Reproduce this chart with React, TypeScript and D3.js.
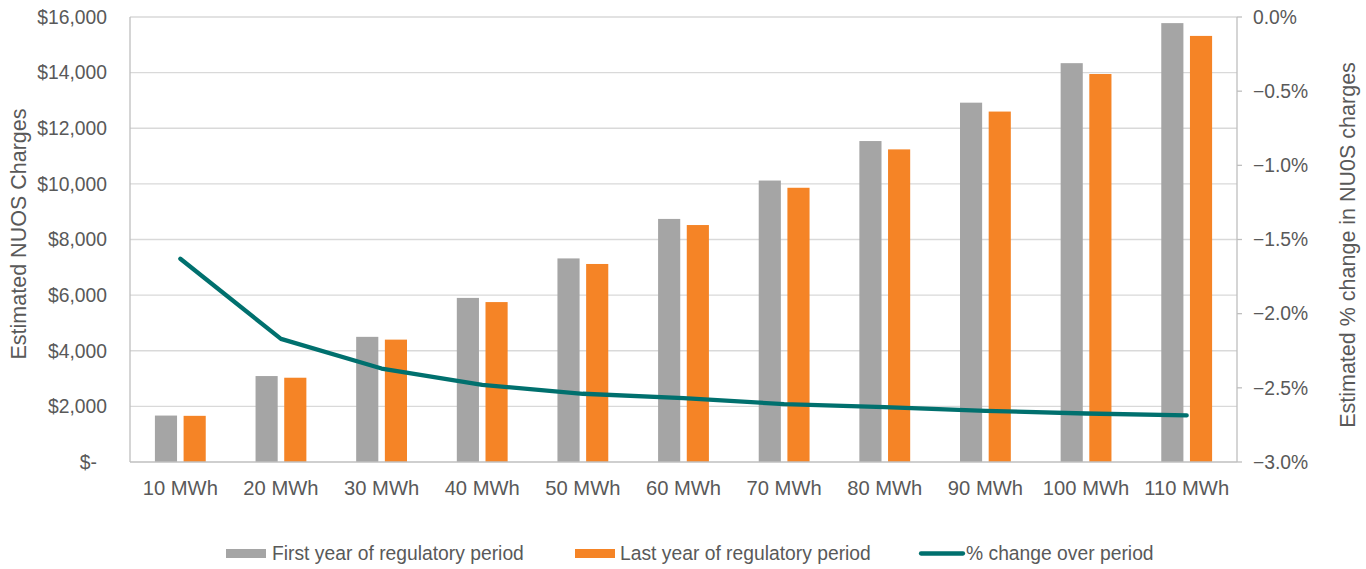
import React from "react";
import * as d3 from "d3";

const categories = ["10 MWh", "20 MWh", "30 MWh", "40 MWh", "50 MWh", "60 MWh", "70 MWh", "80 MWh", "90 MWh", "100 MWh", "110 MWh"];
const firstYear = [1670, 3090, 4500, 5900, 7320, 8740, 10120, 11540, 12920, 14340, 15780];
const lastYear = [1660, 3030, 4400, 5750, 7120, 8520, 9860, 11240, 12600, 13950, 15320];
const pctChange = [-1.63, -2.17, -2.37, -2.48, -2.54, -2.57, -2.61, -2.63, -2.655, -2.673, -2.686];
const leftTicks = [0, 2000, 4000, 6000, 8000, 10000, 12000, 14000, 16000];
const rightTicks = [0, -0.5, -1.0, -1.5, -2.0, -2.5, -3.0];
const seriesNames = ["First year of regulatory period", "Last year of regulatory period", "% change over period"];

const W = 1366;
const H = 569;
const plot = { left: 130, right: 1237, top: 17, bottom: 462 };
const FONT = "'Liberation Sans', Arial, sans-serif";
const TEXT = "#595959";
const GRAY = "#A5A5A5";
const ORANGE = "#F58426";
const TEAL = "#00706E";
const FS = 19.3;

export default function App() {
  const x = d3.scaleBand<string>().domain(categories).range([plot.left, plot.right]).paddingInner(0).paddingOuter(0);
  const yL = d3.scaleLinear().domain([0, 16000]).range([plot.bottom, plot.top]);
  const yR = d3.scaleLinear().domain([-3, 0]).range([plot.bottom, plot.top]);
  const bw = x.bandwidth();
  const barW = bw * 0.22;
  const gap = bw * 0.065;

  const line = d3
    .line<number>()
    .x((_, i) => (x(categories[i]) as number) + bw / 2)
    .y((d) => yR(d));

  const fmtMoney = (v: number) => (v === 0 ? "$-" : "$" + d3.format(",")(v));
  const fmtPct = (v: number) => d3.format(".1f")(v) + "%";

  return (
    <svg width={W} height={H} style={{ position: "absolute", left: 0, top: 0, background: "#fff" }} fontFamily={FONT}>
      {/* gridlines */}
      {leftTicks.slice(1).map((t) => (
        <line key={t} x1={plot.left} x2={plot.right} y1={yL(t)} y2={yL(t)} stroke="#D9D9D9" strokeWidth={1.3} />
      ))}
      {/* bars */}
      {categories.map((c, i) => {
        const cx = (x(c) as number) + bw / 2;
        return (
          <g key={c}>
            <rect x={cx - gap / 2 - barW} y={yL(firstYear[i])} width={barW} height={yL(0) - yL(firstYear[i])} fill={GRAY} />
            <rect x={cx + gap / 2} y={yL(lastYear[i])} width={barW} height={yL(0) - yL(lastYear[i])} fill={ORANGE} />
          </g>
        );
      })}
      {/* axes */}
      <line x1={plot.left} x2={plot.left} y1={plot.top} y2={plot.bottom} stroke="#BFBFBF" strokeWidth={1.3} />
      <line x1={plot.right} x2={plot.right} y1={plot.top} y2={plot.bottom} stroke="#BFBFBF" strokeWidth={1.3} />
      <line x1={plot.left} x2={plot.right} y1={plot.bottom} y2={plot.bottom} stroke="#BFBFBF" strokeWidth={1.3} />
      {rightTicks.map((t) => (
        <line key={t} x1={plot.right} x2={plot.right + 5} y1={yR(t)} y2={yR(t)} stroke="#BFBFBF" strokeWidth={1.3} />
      ))}
      {/* line series */}
      <path d={line(pctChange) || ""} fill="none" stroke={TEAL} strokeWidth={4.3} strokeLinecap="round" strokeLinejoin="round" />
      {/* left tick labels */}
      {leftTicks.map((t) => (
        <text key={t} x={t === 0 ? 97 : 107} y={yL(t)} dy="0.35em" textAnchor="end" fontSize={FS} fill={TEXT}>
          {fmtMoney(t)}
        </text>
      ))}
      {/* right tick labels */}
      {rightTicks.map((t) => (
        <text key={t} x={1253} y={yR(t)} dy="0.35em" textAnchor="start" fontSize={FS} fill={TEXT}>
          {fmtPct(t)}
        </text>
      ))}
      {/* category labels */}
      {categories.map((c) => (
        <text key={c} x={(x(c) as number) + bw / 2} y={495} textAnchor="middle" fontSize={20.2} fill={TEXT}>
          {c}
        </text>
      ))}
      {/* axis titles */}
      <text transform={`translate(18,234) rotate(-90)`} dy="0.35em" textAnchor="middle" fontSize={21.5} fill={TEXT}>
        Estimated NUOS Charges
      </text>
      <text transform={`translate(1347,245) rotate(-90)`} dy="0.35em" textAnchor="middle" fontSize={21.5} fill={TEXT}>
        Estimated % change in NU0S charges
      </text>
      {/* legend */}
      <g>
        <rect x={226} y={549} width={40} height={9} fill={GRAY} />
        <text x={272} y={553.5} dy="0.35em" fontSize={FS} fill={TEXT}>{seriesNames[0]}</text>
        <rect x={575} y={549} width={40} height={9} fill={ORANGE} />
        <text x={620} y={553.5} dy="0.35em" fontSize={FS} fill={TEXT}>{seriesNames[1]}</text>
        <line x1={921} x2={963} y1={553.5} y2={553.5} stroke={TEAL} strokeWidth={4.3} strokeLinecap="round" />
        <text x={966} y={553.5} dy="0.35em" fontSize={FS} fill={TEXT}>{seriesNames[2]}</text>
      </g>
    </svg>
  );
}
